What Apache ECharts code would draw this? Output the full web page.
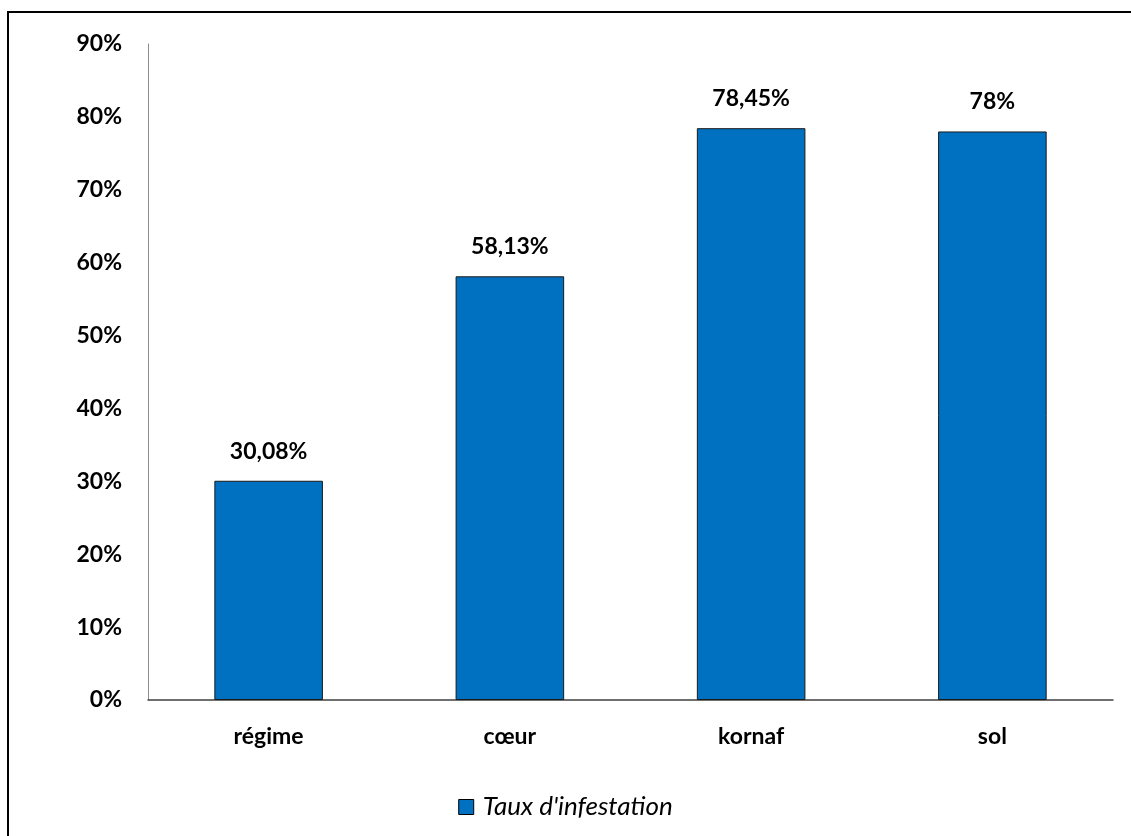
<!DOCTYPE html>
<html>
<head>
<meta charset="utf-8">
<script src="https://cdn.jsdelivr.net/npm/echarts@6/dist/echarts.min.js"></script>
<style>
  html, body { margin: 0; padding: 0; background: #fff; }
  #chart { width: 1131px; height: 836px; }
</style>
</head>
<body>
<div id="chart"></div>
<script>
// Infestation rate per plant part
const categories = ['régime', 'cœur', 'kornaf', 'sol'];
const infestation = [30.08, 58.13, 78.45, 78];
const seriesName = "Taux d'infestation";

const FONT = 'Lato, "Open Sans", sans-serif';
const pct = v => String(v).replace('.', ',') + '%';

const chart = echarts.init(document.getElementById('chart'), null, { renderer: 'canvas' });
chart.setOption({
  animation: false,
  backgroundColor: '#ffffff',
  graphic: [{
    type: 'rect',
    shape: { x: 8, y: 12, width: 1200, height: 900 },
    style: { fill: 'none', stroke: '#000', lineWidth: 2 },
    silent: true
  }],
  grid: { left: 148, right: 18, top: 44, bottom: 136, containLabel: false },
  legend: {
    data: [seriesName],
    top: 789,
    left: 'center',
    icon: 'rect',
    itemWidth: 15,
    itemHeight: 15,
    itemGap: 4,
    itemStyle: { borderColor: '#000', borderWidth: 1 },
    textStyle: { fontFamily: FONT, fontStyle: 'italic', fontSize: 26, color: '#000', padding: [0, 0, 0, 4] }
  },
  xAxis: {
    type: 'category',
    data: categories,
    axisLine: { lineStyle: { color: '#404040', width: 1.5 } },
    axisTick: { show: false },
    axisLabel: { color: '#000', fontFamily: FONT, fontWeight: 'bold', fontSize: 23, margin: 25 }
  },
  yAxis: {
    type: 'value',
    min: 0,
    max: 90,
    interval: 10,
    axisLine: { show: true, lineStyle: { color: '#8c8c8c', width: 1 } },
    axisTick: { show: false },
    splitLine: { show: false },
    axisLabel: {
      color: '#000', fontFamily: FONT, fontWeight: 'bold', fontSize: 23, margin: 26,
      formatter: v => v + '%'
    }
  },
  series: [{
    name: seriesName,
    type: 'bar',
    data: infestation,
    barWidth: '45%',
    itemStyle: { color: '#0070C0', borderColor: '#1a1a1a', borderWidth: 1 },
    label: {
      show: true,
      position: 'top',
      distance: 18,
      color: '#000',
      fontFamily: FONT,
      fontWeight: 'bold',
      fontSize: 23,
      formatter: p => pct(p.value)
    }
  }]
});
</script>
</body>
</html>
